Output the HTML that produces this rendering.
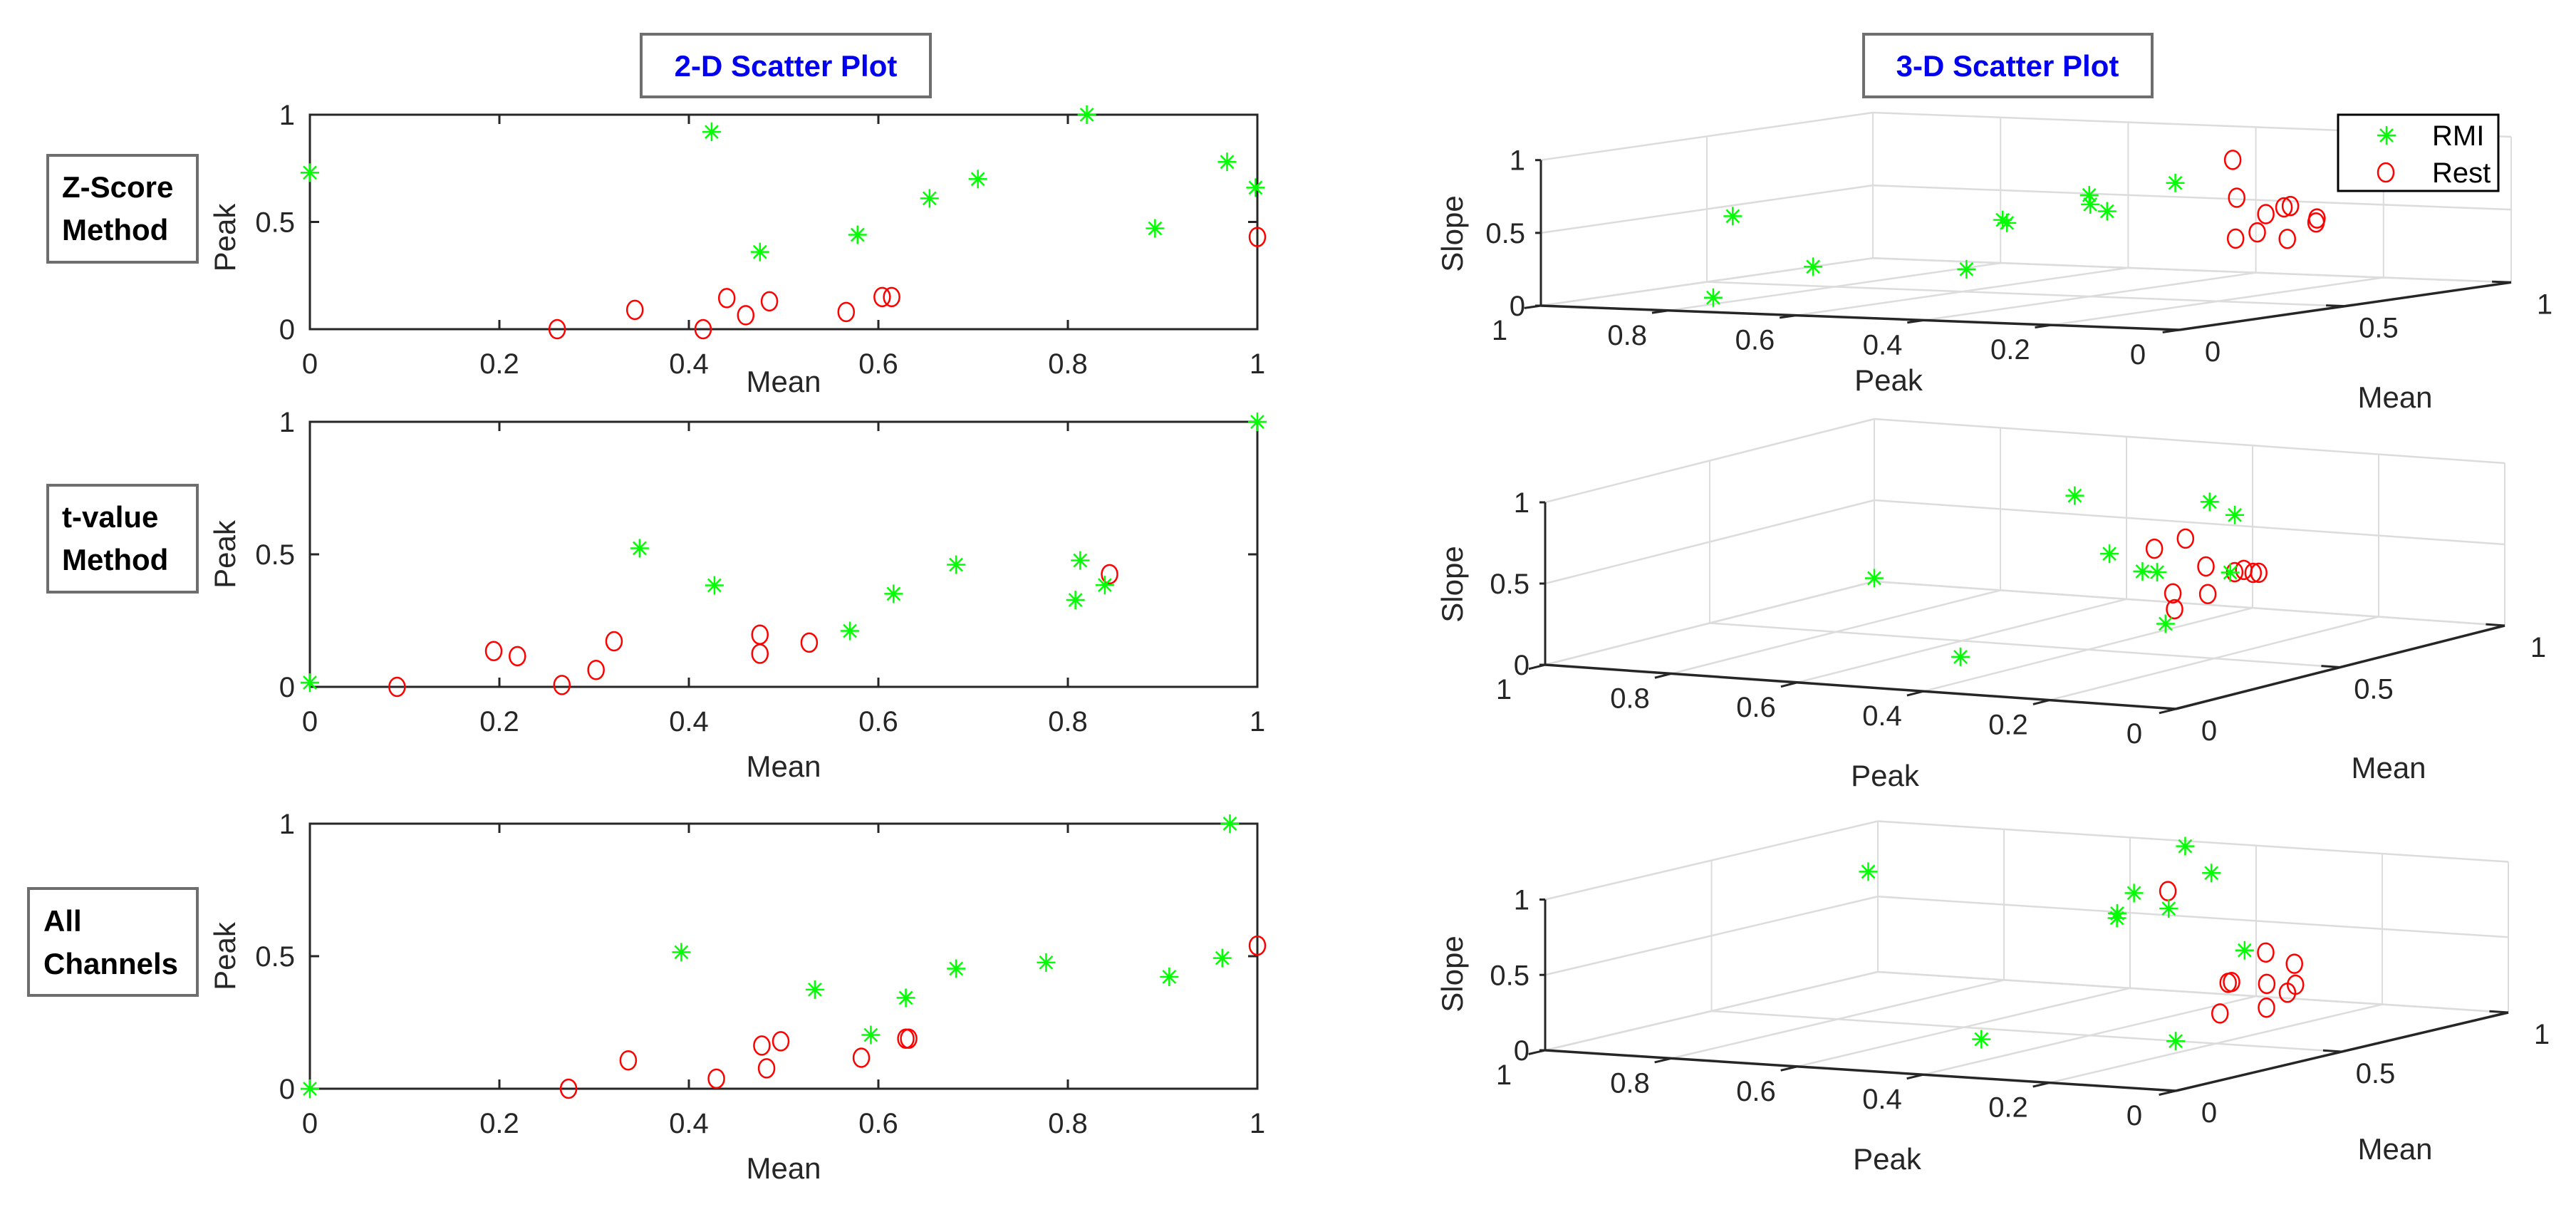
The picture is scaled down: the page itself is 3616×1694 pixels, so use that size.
<!DOCTYPE html>
<html><head><meta charset="utf-8"><style>
html,body{margin:0;padding:0;background:#fff;}
svg{display:block;font-family:"Liberation Sans",Arial,sans-serif;}
</style></head><body>
<svg id="fig" width="3616" height="1694" viewBox="0 0 3616 1694" xmlns="http://www.w3.org/2000/svg">
<rect x="0" y="0" width="3616" height="1694" fill="#fff"/>
<g>
<rect x="900" y="48" width="406" height="88" fill="#fff" stroke="#6e6e6e" stroke-width="4"/>
<text x="1103" y="107" text-anchor="middle" font-size="42" font-weight="bold" fill="#0000ee">2-D Scatter Plot</text>
</g>
<g>
<rect x="2616" y="48" width="405" height="88" fill="#fff" stroke="#6e6e6e" stroke-width="4"/>
<text x="2818" y="107" text-anchor="middle" font-size="42" font-weight="bold" fill="#0000ee">3-D Scatter Plot</text>
</g>
<g>
<rect x="67" y="218" width="210" height="150" fill="#fff" stroke="#6e6e6e" stroke-width="4"/>
<text x="87" y="277" font-size="42" font-weight="bold" fill="#000">Z-Score</text>
<text x="87" y="337" font-size="42" font-weight="bold" fill="#000">Method</text>
</g>
<g>
<rect x="67" y="681" width="210" height="150" fill="#fff" stroke="#6e6e6e" stroke-width="4"/>
<text x="87" y="740" font-size="42" font-weight="bold" fill="#000">t-value</text>
<text x="87" y="800" font-size="42" font-weight="bold" fill="#000">Method</text>
</g>
<g>
<rect x="40" y="1247" width="237" height="150" fill="#fff" stroke="#6e6e6e" stroke-width="4"/>
<text x="61" y="1307" font-size="42" font-weight="bold" fill="#000">All</text>
<text x="61" y="1367" font-size="42" font-weight="bold" fill="#000">Channels</text>
</g>
<g id="layer"></g>
<g>
<rect x="3282" y="161" width="225" height="107" fill="#fff" stroke="#000" stroke-width="3"/>
<g stroke="#00ff00" stroke-width="2.5">
<line x1="3337" y1="190" x2="3363" y2="190"/><line x1="3350" y1="177" x2="3350" y2="203"/>
<line x1="3341" y1="181" x2="3359" y2="199"/><line x1="3341" y1="199" x2="3359" y2="181"/>
</g>
<text x="3414" y="204" font-size="40" fill="#000">RMI</text>
<ellipse cx="3349" cy="242" rx="11" ry="13" fill="none" stroke="#ff0000" stroke-width="2.5"/>
<text x="3414" y="256" font-size="40" fill="#000">Rest</text>
</g>
</svg>
<script>
// ---- Z-Score method data ----
var zMeanRMI  = [0, 0.424, 0.82, 0.475, 0.578, 0.654, 0.705, 0.892, 0.968, 0.998];
var zPeakRMI  = [0.73, 0.92, 1.0, 0.36, 0.44, 0.61, 0.70, 0.47, 0.78, 0.66];
var zSlopeRMI = [0.10, 0.49, 0.0, 0.60, 0.60, 0.42, 0.07, 0.64, 0.31, 0.49];
var zMeanRest  = [0.261, 0.343, 0.415, 0.44, 0.46, 0.485, 0.566, 0.604, 0.614, 1.0];
var zPeakRest  = [0, 0.09, 0, 0.145, 0.065, 0.13, 0.08, 0.15, 0.15, 0.43];
var zSlopeRest = [0.71, 0.50, 0.63, 1.0, 0.69, 0.49, 0.54, 0.62, 0.40, 0.51];
// ---- t-value method data ----
var tMeanRMI  = [0, 0.348, 0.427, 0.57, 0.616, 0.682, 0.813, 0.808, 0.839, 1.0];
var tPeakRMI  = [0.016, 0.523, 0.383, 0.211, 0.351, 0.461, 0.477, 0.328, 0.384, 1.0];
var tSlopeRMI = [0.52, 0.0, 0.99, 0.49, 0.43, 0.48, 0.30, 0.69, 0.74, 0.02];
var tMeanRest  = [0.092, 0.194, 0.219, 0.266, 0.302, 0.321, 0.475, 0.475, 0.527, 0.844];
var tPeakRest  = [0, 0.135, 0.116, 0.007, 0.064, 0.172, 0.197, 0.125, 0.167, 0.425];
var tSlopeRest = [0.83, 0.85, 0.47, 0.70, 0.67, 0.50, 0.41, 0.56, 0.54, 0.50];
// ---- All channels data ----
var aMeanRMI  = [0, 0.392, 0.533, 0.592, 0.629, 0.682, 0.777, 0.907, 0.963, 0.971];
var aPeakRMI  = [0, 0.515, 0.374, 0.203, 0.343, 0.453, 0.476, 0.422, 0.493, 1.0];
var aSlopeRMI = [0.33, 0.0, 0.80, 0.57, 0.79, 0.67, 0.78, 0.86, 0.99, 0.68];
var aMeanRest  = [0.273, 0.336, 0.429, 0.477, 0.482, 0.497, 0.582, 0.629, 0.632, 1.0];
var aPeakRest  = [0, 0.107, 0.038, 0.163, 0.077, 0.179, 0.117, 0.189, 0.189, 0.54];
var aSlopeRest = [0.41, 0.31, 0.61, 0.43, 0.38, 0.41, 0.37, 0.54, 0.33, 0.66];
// ---- tick labels ----
var meanTicks2D = [0, 0.2, 0.4, 0.6, 0.8, 1];
var peakTicks2D = [0, 0.5, 1];
var peakTicks3D = [1, 0.8, 0.6, 0.4, 0.2, 0];
var meanTicks3D = [0, 0.5, 1];
var slopeTicks3D = [0, 0.5, 1];

var NS = "http://www.w3.org/2000/svg";
var layer = document.getElementById('layer');
function mk(tag, attrs, parent) {
  var e = document.createElementNS(NS, tag);
  for (var k in attrs) e.setAttribute(k, attrs[k]);
  (parent || layer).appendChild(e);
  return e;
}
function star(g, x, y) {
  var s = mk('g', {stroke: '#00ff00', 'stroke-width': 2.5}, g);
  
  
  mk('line', {x1: x - 13, y1: y, x2: x + 13, y2: y}, s);
  mk('line', {x1: x, y1: y - 13, x2: x, y2: y + 13}, s);
  mk('line', {x1: x - 9, y1: y - 9, x2: x + 9, y2: y + 9}, s);
  mk('line', {x1: x - 9, y1: y + 9, x2: x + 9, y2: y - 9}, s);
}
function circ(g, x, y) {
  var c = mk('ellipse', {cx: x, cy: y, rx: 11, ry: 13, fill: 'none', stroke: '#ff0000', 'stroke-width': 2.5}, g);
  
  
}
function fmt(v) { return String(v); }

function plot2D(name, y0, y1, meanR, peakR, meanS, peakS, xlabDy) {
  var x0 = 435, x1 = 1765;
  var g = mk('g', {});
  
  
  function sx(v) { return x0 + v * (x1 - x0); }
  function sy(v) { return y1 - v * (y1 - y0); }
  var box = mk('rect', {x: x0, y: y0, width: x1 - x0, height: y1 - y0, fill: '#fff', stroke: '#262626', 'stroke-width': 3}, g);
  
  
  meanTicks2D.forEach(function (t) {
    var x = sx(t);
    mk('line', {x1: x, y1: y1, x2: x, y2: y1 - 13, stroke: '#262626', 'stroke-width': 3}, g);
    mk('line', {x1: x, y1: y0, x2: x, y2: y0 + 13, stroke: '#262626', 'stroke-width': 3}, g);
    var tx = mk('text', {x: x, y: y1 + 62, 'text-anchor': 'middle', 'font-size': 40, fill: '#262626'}, g);
    
    
    tx.textContent = fmt(t);
  });
  peakTicks2D.forEach(function (t) {
    var y = sy(t);
    mk('line', {x1: x0, y1: y, x2: x0 + 13, y2: y, stroke: '#262626', 'stroke-width': 3}, g);
    mk('line', {x1: x1, y1: y, x2: x1 - 13, y2: y, stroke: '#262626', 'stroke-width': 3}, g);
    var tx = mk('text', {x: 414, y: y + 14, 'text-anchor': 'end', 'font-size': 40, fill: '#262626'}, g);
    
    
    tx.textContent = fmt(t);
  });
  var yl = mk('text', {x: 0, y: 0, 'text-anchor': 'middle', 'font-size': 42, fill: '#262626', transform: 'translate(330,' + ((y0 + y1) / 2 + (y1 - y0 < 320 ? 22 : 0)) + ') rotate(-90)'}, g);
  
  
  yl.textContent = 'Peak';
  var xl = mk('text', {x: (x0 + x1) / 2, y: y1 + xlabDy, 'text-anchor': 'middle', 'font-size': 42, fill: '#262626'}, g);
  
  
  xl.textContent = 'Mean';
  for (var i = 0; i < meanR.length; i++) circ(g, sx(meanR[i]), sy(peakR[i]));
  for (var j = 0; j < meanS.length; j++) star(g, sx(meanS[j]), sy(peakS[j]));
}

function plot3D(name, O, A, B, C, labels, meanR, peakR, slopeR, meanS, peakS, slopeS) {
  var g = mk('g', {});
  
  
  function P(peak, mean, z) {
    return [O[0] + (1 - peak) * A[0] + mean * B[0] + z * C[0],
            O[1] + (1 - peak) * A[1] + mean * B[1] + z * C[1]];
  }
  function ln(a, b, col, w) {
    return mk('line', {x1: a[0], y1: a[1], x2: b[0], y2: b[1], stroke: col, 'stroke-width': w}, g);
  }
  var gc = '#dcdcdc';
  // floor grid
  peakTicks3D.forEach(function (p) { ln(P(p, 0, 0), P(p, 1, 0), gc, 2.5); });
  meanTicks3D.forEach(function (m) { ln(P(1, m, 0), P(0, m, 0), gc, 2.5); });
  // left wall
  meanTicks3D.forEach(function (m) { if (m > 0) ln(P(1, m, 0), P(1, m, 1), gc, 2); });
  slopeTicks3D.forEach(function (z) { ln(P(1, 0, z), P(1, 1, z), gc, 2.5); });
  // back wall
  peakTicks3D.forEach(function (p) { ln(P(p, 1, 0), P(p, 1, 1), gc, 2); });
  slopeTicks3D.forEach(function (z) { ln(P(1, 1, z), P(0, 1, z), gc, 2.5); });
  // axes
  var ax1 = ln(P(1, 0, 0), P(0, 0, 0), '#262626', 3.5);
  
  
  var ax2 = ln(P(0, 0, 0), P(0, 1, 0), '#262626', 3.5);
  
  
  var ax3 = ln(P(1, 0, 0), P(1, 0, 1), '#262626', 3);
  
  
  peakTicks3D.forEach(function (p) {
    var a = P(p, 0, 0), b = P(p, -0.05, 0);
    ln(a, b, '#262626', 3);
    var t = mk('text', {x: a[0] - 58, y: a[1] + 48, 'text-anchor': 'middle', 'font-size': 40, fill: '#262626'}, g);
    
    
    t.textContent = fmt(p);
  });
  meanTicks3D.forEach(function (m) {
    var a = P(0, m, 0), b = P(0.03, m, 0);
    ln(a, b, '#262626', 3);
    var t = mk('text', {x: a[0] + 47, y: a[1] + 44, 'text-anchor': 'middle', 'font-size': 40, fill: '#262626'}, g);
    
    
    t.textContent = fmt(m);
  });
  slopeTicks3D.forEach(function (z) {
    var a = P(1, 0, z);
    ln(a, [a[0] - 8, a[1]], '#262626', 3);
    var t = mk('text', {x: a[0] - 22, y: a[1] + 14, 'text-anchor': 'end', 'font-size': 40, fill: '#262626'}, g);
    
    
    t.textContent = fmt(z);
  });
  var l1 = mk('text', {x: labels.peak[0], y: labels.peak[1] + 15, 'text-anchor': 'middle', 'font-size': 42, fill: '#262626'}, g);
  
  
  l1.textContent = 'Peak';
  var l2 = mk('text', {x: labels.mean[0], y: labels.mean[1] + 15, 'text-anchor': 'middle', 'font-size': 42, fill: '#262626'}, g);
  
  
  l2.textContent = 'Mean';
  var l3 = mk('text', {x: 0, y: 0, 'text-anchor': 'middle', 'font-size': 42, fill: '#262626', transform: 'translate(' + (labels.slope[0] + 15) + ',' + labels.slope[1] + ') rotate(-90)'}, g);
  
  
  l3.textContent = 'Slope';
  for (var i = 0; i < meanR.length; i++) { var q = P(peakR[i], meanR[i], slopeR[i]); circ(g, q[0], q[1]); }
  for (var j = 0; j < meanS.length; j++) { var r = P(peakS[j], meanS[j], slopeS[j]); star(g, r[0], r[1]); }
}

plot2D('zscore-2d-plot', 161, 462, zMeanRest, zPeakRest, zMeanRMI, zPeakRMI, 88);
plot2D('tvalue-2d-plot', 592, 964, tMeanRest, tPeakRest, tMeanRMI, tPeakRMI, 126);
plot2D('allchannels-2d-plot', 1156, 1528, aMeanRest, aPeakRest, aMeanRMI, aPeakRMI, 126);

plot3D('zscore-3d-plot', [2163, 429], [896, 34], [466, -66.7], [0, -204.3],
  {peak: [2651, 533], mean: [3362, 557], slope: [2038, 328]},
  zMeanRest, zPeakRest, zSlopeRest, zMeanRMI, zPeakRMI, zSlopeRMI);
plot3D('tvalue-3d-plot', [2169, 933], [885, 62], [462, -117], [0, -228],
  {peak: [2646, 1088], mean: [3353, 1077], slope: [2038, 820]},
  tMeanRest, tPeakRest, tSlopeRest, tMeanRMI, tPeakRMI, tSlopeRMI);
plot3D('allchannels-3d-plot', [2169, 1474], [885, 57], [467, -110], [0, -211.5],
  {peak: [2649, 1626], mean: [3362, 1612], slope: [2038, 1367]},
  aMeanRest, aPeakRest, aSlopeRest, aMeanRMI, aPeakRMI, aSlopeRMI);
</script>
</body></html>
